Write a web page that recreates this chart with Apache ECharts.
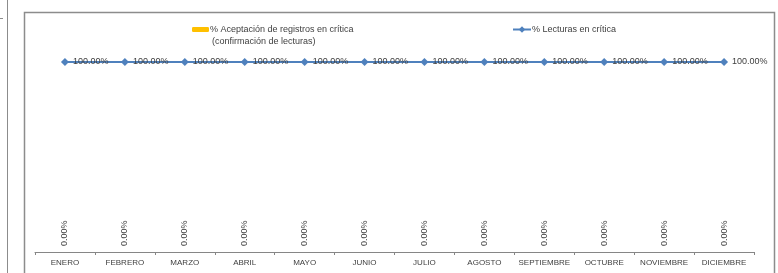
<!DOCTYPE html>
<html>
<head>
<meta charset="utf-8">
<script src="https://cdn.jsdelivr.net/npm/echarts@6/dist/echarts.min.js"></script>
<style>
  html, body { margin: 0; padding: 0; background: #fff; }
  #chart { width: 778px; height: 273px; }
</style>
</head>
<body>
<div id="chart"></div>
<script>
// categorias (meses)
var meses = ['ENERO', 'FEBRERO', 'MARZO', 'ABRIL', 'MAYO', 'JUNIO', 'JULIO', 'AGOSTO', 'SEPTIEMBRE', 'OCTUBRE', 'NOVIEMBRE', 'DICIEMBRE'];
// % Aceptación de registros en crítica (barras)
var aceptacion = [0, 0, 0, 0, 0, 0, 0, 0, 0, 0, 0, 0];
// % Lecturas en crítica (línea)
var lecturas = [100, 100, 100, 100, 100, 100, 100, 100, 100, 100, 100, 100];

var nombreBarra = '% Aceptación de registros en crítica';
var nombreLinea = '% Lecturas en crítica';

var myChart = echarts.init(document.getElementById('chart'));

function pct(p) {
    return p.value.toFixed(2) + '%';
}

var option = {
    animation: false,
    textStyle: { fontFamily: 'Liberation Sans' },
    graphic: [
        // marco del grafico
        { type: 'rect', shape: { x: 24.5, y: 12.5, width: 750, height: 280 }, style: { fill: 'none', stroke: '#8c8c8c', lineWidth: 1.5 }, silent: true },
        { type: 'line', shape: { x1: 7.5, y1: 0, x2: 7.5, y2: 273 }, style: { stroke: '#8c8c8c', lineWidth: 1 }, silent: true },
        { type: 'line', shape: { x1: 0, y1: 18.5, x2: 3, y2: 18.5 }, style: { stroke: '#8c8c8c', lineWidth: 1 }, silent: true },
        // segunda linea de la leyenda de barras
        { type: 'text', left: 212, top: 37, style: { text: '(confirmación de lecturas)', fontSize: 9, fill: '#404040', fontFamily: 'Liberation Sans' }, silent: true }
    ],
    legend: [{
        data: [nombreBarra],
        left: 192,
        top: 25,
        itemWidth: 17,
        itemHeight: 5,
        itemGap: 0,
        padding: 0,
        textStyle: { fontSize: 9, color: '#404040', padding: [0, 0, 0, -4] }
    }, {
        data: [nombreLinea],
        left: 512,
        top: 25,
        itemWidth: 18,
        itemHeight: 8,
        padding: 0,
        textStyle: { fontSize: 9, color: '#404040', padding: [0, 0, 0, -4] }
    }],
    grid: { left: 35, right: 24, top: 62, bottom: 21, containLabel: false },
    xAxis: {
        type: 'category',
        data: meses,
        axisLine: { lineStyle: { color: '#868686', width: 1 } },
        axisTick: { show: true, length: 3, lineStyle: { color: '#868686' } },
        axisLabel: { fontSize: 8, color: '#404040', margin: 7, interval: 0 }
    },
    yAxis: {
        type: 'value',
        min: 0,
        max: 100,
        show: false,
        splitLine: { show: false }
    },
    series: [{
        name: nombreBarra,
        type: 'bar',
        data: aceptacion,
        barWidth: 20,
        itemStyle: { color: '#FFC000' },
        label: {
            show: true,
            position: 'insideBottom',
            distance: 6,
            rotate: 90,
            align: 'left',
            verticalAlign: 'middle',
            fontSize: 9,
            color: '#404040',
            formatter: pct
        }
    }, {
        name: nombreLinea,
        type: 'line',
        data: lecturas,
        symbol: 'diamond',
        symbolSize: 8,
        lineStyle: { color: '#4F81BD', width: 2 },
        itemStyle: { color: '#4F81BD' },
        label: {
            show: true,
            position: 'right',
            distance: 4,
            fontSize: 9,
            color: '#404040',
            formatter: pct
        },
        z: 3
    }]
};

myChart.setOption(option);
</script>
</body>
</html>
